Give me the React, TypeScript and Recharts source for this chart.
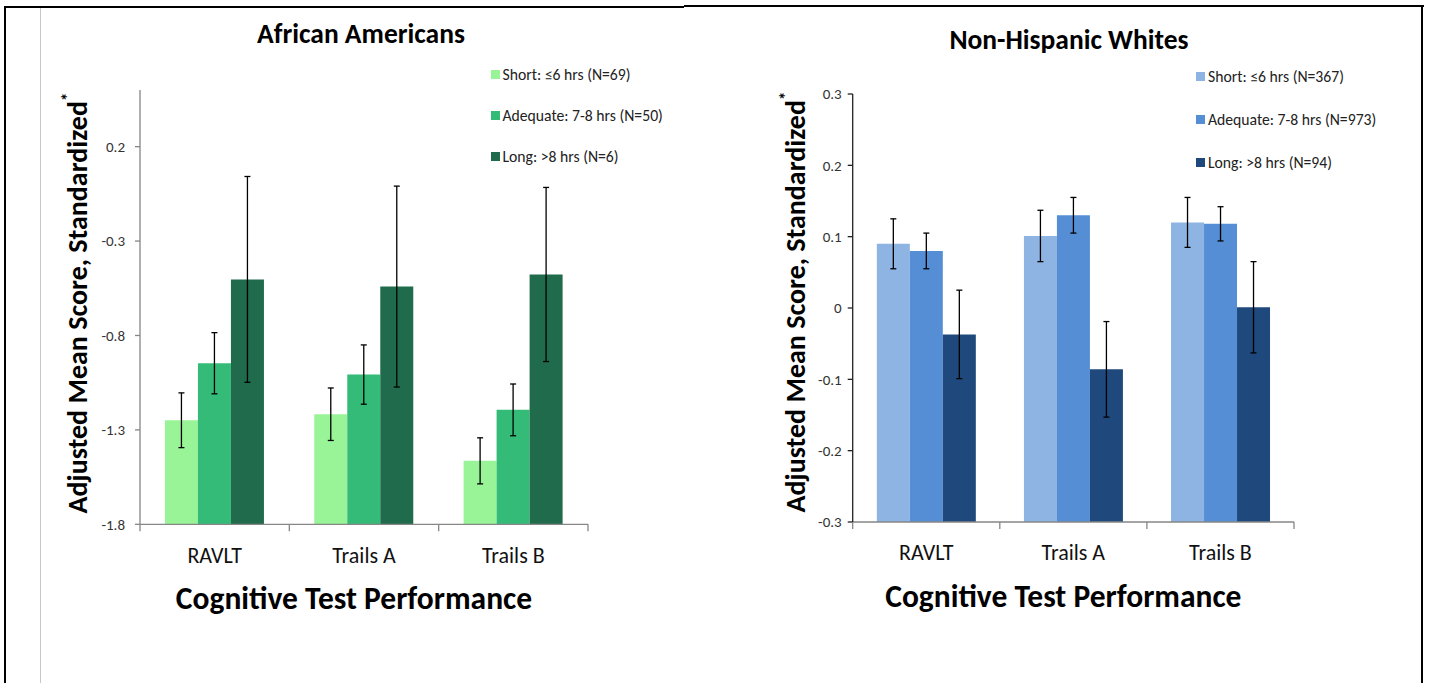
import React from 'react';
import { BarChart, Bar, XAxis, YAxis, ErrorBar, Legend } from 'recharts';

const categories = ['RAVLT', 'Trails A', 'Trails B'];
const seriesNames = ['Short: ≤6 hrs', 'Adequate: 7-8 hrs', 'Long: >8 hrs'];

// African Americans
const aaN = [69, 50, 6];
const aaShort = [-1.249, -1.217, -1.464];
const aaShortErr = [0.145, 0.139, 0.122];
const aaAdequate = [-0.947, -1.007, -1.194];
const aaAdequateErr = [0.162, 0.157, 0.137];
const aaLong = [-0.503, -0.541, -0.477];
const aaLongErr = [0.545, 0.532, 0.461];
const aaTicks = [-1.8, -1.3, -0.8, -0.3, 0.2];
const aaDomain: [number, number] = [-1.8, 0.5];
const aaColors = ['#98F496', '#33BB77', '#1F6B4C'];

// Non-Hispanic Whites
const nhwN = [367, 973, 94];
const nhwShort = [0.09, 0.101, 0.12];
const nhwShortErr = [0.035, 0.036, 0.035];
const nhwAdequate = [0.08, 0.13, 0.118];
const nhwAdequateErr = [0.025, 0.025, 0.024];
const nhwLong = [-0.037, -0.086, 0.001];
const nhwLongErr = [0.062, 0.067, 0.064];
const nhwTicks = [-0.3, -0.2, -0.1, 0, 0.1, 0.2, 0.3];
const nhwDomain: [number, number] = [-0.3, 0.3];
const nhwColors = ['#8EB4E3', '#558ED5', '#1F497D'];

const FONT = 'Carlito, Lato, "Open Sans", sans-serif';

const buildData = (s: number[], se: number[], a: number[], ae: number[], l: number[], le: number[]) =>
  categories.map((cat, i) => ({
    cat,
    short: s[i],
    shortErr: se[i],
    adequate: a[i],
    adequateErr: ae[i],
    long: l[i],
    longErr: le[i],
  }));

const aaData = buildData(aaShort, aaShortErr, aaAdequate, aaAdequateErr, aaLong, aaLongErr);
const nhwData = buildData(nhwShort, nhwShortErr, nhwAdequate, nhwAdequateErr, nhwLong, nhwLongErr);

const makeXTick = (plotWidth: number, axisColor: string, labelDy: number) => (props: any) => {
  const { x, y, payload, index } = props;
  const half = plotWidth / categories.length / 2;
  const idx = index ?? payload?.index ?? 0;
  return (
    <g>
      <line x1={x - half} x2={x - half} y1={y} y2={y + 7} stroke={axisColor} strokeWidth={1.3} />
      {idx === categories.length - 1 && (
        <line x1={x + half} x2={x + half} y1={y} y2={y + 7} stroke={axisColor} strokeWidth={1.3} />
      )}
      <text x={x} y={y + labelDy} textAnchor="middle" fontSize={22} fill="#111" fontFamily={FONT}>
        {payload.value}
      </text>
    </g>
  );
};

const makeLegend = (nList: number[], colors: string[], rowH: number) => () => (
  <div style={{ fontFamily: FONT, fontSize: 15.7, color: '#222' }}>
    {seriesNames.map((name, i) => (
      <div key={i} style={{ height: rowH, display: 'flex', alignItems: 'center', whiteSpace: 'nowrap' }}>
        <span style={{ display: 'inline-block', width: 9, height: 9, background: colors[i], marginRight: 3 }} />
        <span>{`${name} (N=${nList[i]})`}</span>
      </div>
    ))}
  </div>
);

const makeYLabel = (cx: number, cy: number) => () => (
  <text
    transform={`translate(${cx},${cy}) rotate(-90)`}
    textAnchor="middle"
    fontSize={28}
    fontWeight="bold"
    fill="#000"
    fontFamily={FONT}
  >
    Adjusted Mean Score, Standardized
    <tspan fontSize={17} dy={-13}>*</tspan>
  </text>
);

const makeXLabel = (dxShift: number, baseline: number) => (props: any) => {
  const vb = props.viewBox || {};
  return (
    <text
      x={vb.x + vb.width / 2 + dxShift}
      y={vb.y + baseline}
      textAnchor="middle"
      fontSize={31.5}
      fontWeight="bold"
      fill="#000"
      fontFamily={FONT}
    >
      Cognitive Test Performance
    </text>
  );
};

const fmt = (v: number) => (Math.abs(v) < 1e-9 ? '0' : v.toFixed(1));

const Title = ({ text, cx, top }: { text: string; cx: number; top: number }) => (
  <div
    style={{
      position: 'absolute',
      left: cx - 250,
      width: 500,
      top,
      textAlign: 'center',
      fontFamily: FONT,
      fontWeight: 'bold',
      fontSize: 27.5,
      lineHeight: '30px',
      color: '#000',
    }}
  >
    {text}
  </div>
);

export default function App() {
  const aaPlotW = 448;
  const nhwPlotW = 441.3;
  return (
    <div style={{ position: 'absolute', left: 0, top: 0, width: 1431, height: 683, background: '#fff', overflow: 'hidden' }}>
      {/* frame */}
      <div style={{ position: 'absolute', left: 4, top: 6, width: 680, height: 2, background: '#000' }} />
      <div style={{ position: 'absolute', left: 684, top: 5, width: 740, height: 2, background: '#000' }} />
      <div style={{ position: 'absolute', left: 4, top: 6, width: 2, height: 677, background: '#000' }} />
      <div style={{ position: 'absolute', left: 1421, top: 5, width: 2, height: 678, background: '#000' }} />
      <div style={{ position: 'absolute', left: 40, top: 8, width: 1, height: 675, background: '#c8c8c8' }} />

      <Title text="African Americans" cx={361} top={19} />
      <Title text="Non-Hispanic Whites" cx={1069} top={25} />

      <div style={{ position: 'absolute', left: 0, top: 0 }}>
        <BarChart
          width={700}
          height={683}
          data={aaData}
          margin={{ top: 90, left: 80, right: 112, bottom: 118.7 }}
          barCategoryGap="16.7%"
          barGap={0}
        >
          <XAxis
            dataKey="cat"
            height={40}
            tickSize={0}
            tickMargin={0}
            tickLine={false}
            interval={0}
            axisLine={{ stroke: '#868686', strokeWidth: 1.3 }}
            tick={makeXTick(aaPlotW, '#868686', 38.5)}
            label={makeXLabel(-10, 85)}
          />
          <YAxis
            width={60}
            domain={aaDomain}
            allowDataOverflow
            ticks={aaTicks}
            interval={0}
            tickFormatter={fmt}
            tickSize={5}
            tickMargin={10}
            axisLine={{ stroke: '#868686', strokeWidth: 1.3 }}
            tickLine={{ stroke: '#868686', strokeWidth: 1.3 }}
            tick={{ fontSize: 15, fill: '#333', fontFamily: FONT }}
            label={makeYLabel(87, 303)}
          />
          <Legend
            layout="vertical"
            align="center"
            verticalAlign="middle"
            wrapperStyle={{ left: 490.5, top: 53.5, width: 210, height: 125 }}
            content={makeLegend(aaN, aaColors, 41)}
          />
          <Bar dataKey={(d: any) => [aaDomain[0], d.short]} name={seriesNames[0]} fill={aaColors[0]} isAnimationActive={false}>
            <ErrorBar dataKey="shortErr" width={3} stroke="#000" strokeWidth={1.3} direction="y" />
          </Bar>
          <Bar dataKey={(d: any) => [aaDomain[0], d.adequate]} name={seriesNames[1]} fill={aaColors[1]} isAnimationActive={false}>
            <ErrorBar dataKey="adequateErr" width={3} stroke="#000" strokeWidth={1.3} direction="y" />
          </Bar>
          <Bar dataKey={(d: any) => [aaDomain[0], d.long]} name={seriesNames[2]} fill={aaColors[2]} isAnimationActive={false}>
            <ErrorBar dataKey="longErr" width={3} stroke="#000" strokeWidth={1.3} direction="y" />
          </Bar>
        </BarChart>
      </div>

      <div style={{ position: 'absolute', left: 700, top: 0 }}>
        <BarChart
          width={731}
          height={683}
          data={nhwData}
          margin={{ top: 94, left: 92.7, right: 137, bottom: 121 }}
          barCategoryGap="16.4%"
          barGap={0}
        >
          <XAxis
            dataKey="cat"
            height={40}
            tickSize={0}
            tickMargin={0}
            tickLine={false}
            interval={0}
            axisLine={{ stroke: '#868686', strokeWidth: 1.3 }}
            tick={makeXTick(nhwPlotW, '#868686', 37.5)}
            label={makeXLabel(-10, 85)}
          />
          <YAxis
            width={60}
            domain={nhwDomain}
            allowDataOverflow
            ticks={nhwTicks}
            interval={0}
            tickFormatter={fmt}
            tickSize={5}
            tickMargin={6}
            axisLine={{ stroke: '#222', strokeWidth: 1.3 }}
            tickLine={{ stroke: '#222', strokeWidth: 1.3 }}
            tick={{ fontSize: 15, fill: '#333', fontFamily: FONT }}
            label={makeYLabel(105, 302)}
          />
          <Legend
            layout="vertical"
            align="center"
            verticalAlign="middle"
            wrapperStyle={{ left: 496, top: 55.2, width: 230, height: 130 }}
            content={makeLegend(nhwN, nhwColors, 43)}
          />
          <Bar dataKey={(d: any) => [nhwDomain[0], d.short]} name={seriesNames[0]} fill={nhwColors[0]} isAnimationActive={false}>
            <ErrorBar dataKey="shortErr" width={3} stroke="#000" strokeWidth={1.3} direction="y" />
          </Bar>
          <Bar dataKey={(d: any) => [nhwDomain[0], d.adequate]} name={seriesNames[1]} fill={nhwColors[1]} isAnimationActive={false}>
            <ErrorBar dataKey="adequateErr" width={3} stroke="#000" strokeWidth={1.3} direction="y" />
          </Bar>
          <Bar dataKey={(d: any) => [nhwDomain[0], d.long]} name={seriesNames[2]} fill={nhwColors[2]} isAnimationActive={false}>
            <ErrorBar dataKey="longErr" width={3} stroke="#000" strokeWidth={1.3} direction="y" />
          </Bar>
        </BarChart>
      </div>
    </div>
  );
}
